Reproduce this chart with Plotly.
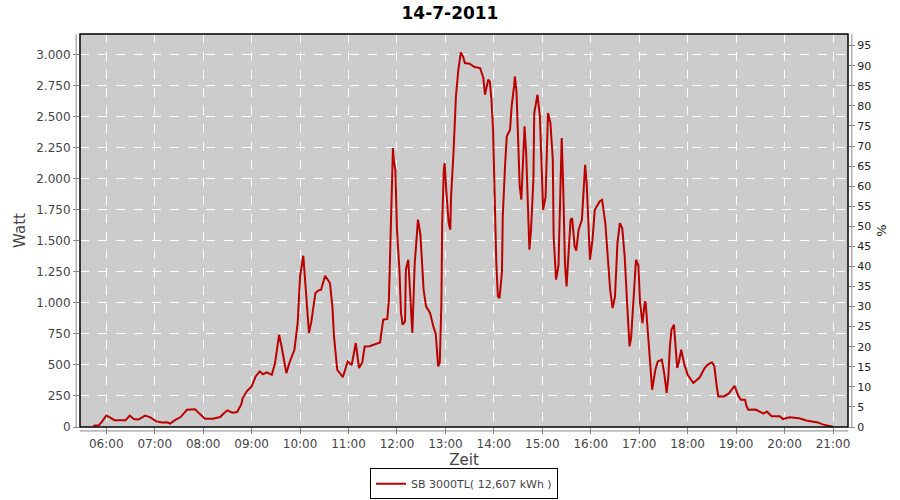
import plotly.graph_objects as go

times = ["05:44","05:51","05:55","06:00","06:05","06:10","06:24","06:29","06:34","06:40","06:48","06:54",
"07:02","07:09","07:15","07:19","07:25","07:32","07:40","07:50","07:55","08:02","08:12","08:21","08:26",
"08:30","08:36","08:42","08:47","08:49","08:54","09:00","09:05","09:10","09:14","09:19","09:25","09:29",
"09:34","09:37","09:43","09:47","09:53","09:57","10:00","10:04","10:06","10:08","10:11","10:14","10:19",
"10:23","10:26","10:31","10:34","10:37","10:40","10:42","10:46","10:53","10:59","11:04","11:09","11:13",
"11:17","11:20","11:26","11:35","11:39","11:43","11:48","11:50","11:51","11:53","11:54","11:55","11:56",
"11:58","12:00","12:03","12:05","12:07","12:10","12:11","12:14","12:16","12:17","12:19","12:22","12:26",
"12:29","12:31","12:33","12:36","12:41","12:45","12:48","12:51","12:53","12:55","12:56","12:58","12:59",
"13:01","13:04","13:06","13:07","13:10","13:13","13:16","13:19","13:22","13:24","13:30","13:36","13:43",
"13:47","13:49","13:53","13:55","13:57","13:59","14:01","14:03","14:05","14:07","14:10","14:11","14:14",
"14:16","14:20","14:22","14:25","14:26","14:28","14:30","14:32","14:34","14:36","14:38","14:40","14:43",
"14:44","14:46","14:49","14:50","14:54","14:57","14:59","15:01","15:04","15:05","15:07","15:10","15:13",
"15:14","15:17","15:20","15:22","15:24","15:26","15:28","15:30","15:33","15:35","15:37","15:40","15:42",
"15:45","15:49","15:51","15:53","15:55","15:58","15:59","16:02","16:05","16:11","16:14","16:18","16:21",
"16:24","16:27","16:30","16:33","16:36","16:39","16:42","16:45","16:48","16:50","16:53","16:56","16:59",
"17:01","17:04","17:07","17:08","17:11","17:14","17:16","17:20","17:23","17:28","17:31","17:34","17:36",
"17:38","17:40","17:43","17:44","17:47","17:49","17:52","17:56","18:00","18:07","18:15","18:21","18:25",
"18:30","18:33","18:36","18:38","18:45","18:51","18:58","19:03","19:06","19:11","19:13","19:15","19:24",
"19:34","19:38","19:44","19:54","19:58","20:06","20:18","20:27","20:36","20:41","20:48","20:58","21:00"]

watt = [10,15,45,92,75,55,55,92,65,60,92,80,
45,37,38,28,55,80,139,142,110,67,67,80,112,
134,115,120,180,233,287,327,407,448,425,440,420,515,
743,650,434,520,622,837,1212,1379,1200,998,757,850,1079,
1100,1105,1218,1185,1159,971,729,461,402,528,500,676,475,
520,649,650,670,681,864,870,1025,1293,1803,2045,2246,2150,
2071,1588,1266,918,823,850,1266,1347,1100,950,757,1320,1669,
1550,1320,1104,971,918,810,750,488,520,998,1642,2071,2125,
1910,1642,1588,1856,2206,2661,2876,3015,2980,2930,2925,2898,2890,
2809,2675,2796,2780,2635,2393,1723,1320,1051,1038,1250,1695,2125,
2340,2393,2581,2742,2822,2700,2259,1937,1830,2100,2421,2200,1588,
1427,1588,2000,2528,2675,2500,2045,1749,1850,2100,2528,2450,2150,
1534,1186,1300,1900,2327,1900,1320,1132,1450,1669,1680,1454,1420,
1588,1669,1910,2111,1950,1550,1347,1500,1749,1816,1830,1642,1373,
1105,958,1050,1481,1642,1600,1373,998,649,720,1051,1347,1300,
1000,837,1011,1000,743,421,300,461,528,542,430,274,400,
649,784,824,750,475,520,622,500,420,354,400,475,502,
520,490,327,246,246,270,332,246,220,220,166,139,140,
107,125,86,86,64,78,70,53,45,37,19,10,3]

y_tickvals = [0,250,500,750,1000,1250,1500,1750,2000,2250,2500,2750,3000]
y_ticktext = ["0","250","500","750","1.000","1.250","1.500","1.750","2.000","2.250","2.500","2.750","3.000"]
x_tickvals = ["%02d:00" % h for h in range(6, 22)]

day = "2011-07-14 "
xs = [day + t for t in times]

fig = go.Figure()
fig.add_trace(go.Scatter(x=xs, y=watt, mode="lines",
                         line=dict(color="#BB0000", width=2),
                         name="SB 3000TL( 12,607 kWh )"))
fig.add_trace(go.Scatter(x=[xs[0]], y=[0], yaxis="y2", mode="markers",
                         marker=dict(opacity=0), showlegend=False, hoverinfo="skip"))

tickfont = dict(family="DejaVu Sans", size=12, color="#444444")
fig.update_layout(
    width=900, height=500,
    margin=dict(l=80, r=52, t=34, b=73, autoexpand=False),
    paper_bgcolor="white", plot_bgcolor="#CCCCCC",
    title=dict(text="<b>14-7-2011</b>", x=0.5, xanchor="center", y=0.973, yanchor="middle",
               font=dict(family="DejaVu Sans", size=17, color="black")),
    xaxis=dict(type="date", range=[day + "05:27:27", day + "21:18:33"], automargin=False,
               tickvals=[day + t for t in x_tickvals], ticktext=x_tickvals,
               showgrid=True, gridcolor="white", griddash="dash", gridwidth=1,
               ticks="outside", ticklen=6, tickcolor="#888888",
               tickfont=tickfont, zeroline=False,
               title=dict(text="Zeit", font=dict(family="DejaVu Sans", size=15, color="#444444"), standoff=4)),
    yaxis=dict(range=[0, 3164], tickvals=y_tickvals, ticktext=y_ticktext, automargin=False,
               showgrid=True, gridcolor="white", griddash="dash", gridwidth=1,
               ticks="outside", ticklen=6, tickcolor="#888888",
               tickfont=tickfont, zeroline=False,
               title=dict(text="Watt", font=dict(family="DejaVu Sans", size=15, color="#444444"), standoff=6)),
    yaxis2=dict(range=[0, 97.9], overlaying="y", side="right", dtick=5, tick0=0, automargin=False,
                showgrid=False, zeroline=False, ticks="outside", ticklen=6, tickcolor="#888888",
                tickfont=dict(family="DejaVu Sans", size=11, color="#222222"),
                title=dict(text="%", font=dict(family="DejaVu Sans", size=13, color="#222222"), standoff=6)),
    showlegend=True,
    legend=dict(orientation="h", x=0.5, xanchor="center", y=-0.105, yanchor="top",
                bordercolor="black", borderwidth=1, bgcolor="white",
                font=dict(family="DejaVu Sans", size=11, color="#444444"),
                itemwidth=30),
    shapes=[
        dict(type="rect", xref="paper", yref="paper", x0=0, x1=1, y0=0, y1=1,
             line=dict(color="black", width=1.5), layer="above"),
        dict(type="line", xref="paper", yref="paper", x0=-0.005, x1=-0.005, y0=0, y1=1,
             line=dict(color="#888888", width=1)),
        dict(type="line", xref="paper", yref="paper", x0=1.005, x1=1.005, y0=0, y1=1,
             line=dict(color="#888888", width=1)),
        dict(type="line", xref="paper", yref="paper", x0=0, x1=1, y0=-0.01, y1=-0.01,
             line=dict(color="#888888", width=1)),
    ],
)

fig.write_html("out.html", config={"displayModeBar": False},
               post_script="document.body.style.margin='0';document.body.style.overflow='hidden';")
